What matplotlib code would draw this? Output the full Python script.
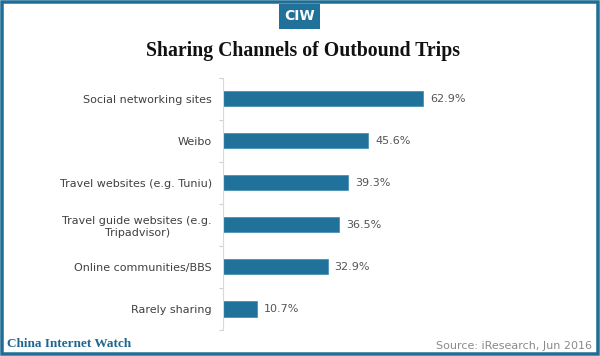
import matplotlib.pyplot as plt
from matplotlib.patches import Rectangle
import numpy as np

# 数据
categories = [
    "Social networking sites",
    "Weibo",
    "Travel websites (e.g. Tuniu)",
    "Travel guide websites (e.g.\nTripadvisor)",
    "Online communities/BBS",
    "Rarely sharing",
]
values = [62.9, 45.6, 39.3, 36.5, 32.9, 10.7]
value_labels = ["62.9%", "45.6%", "39.3%", "36.5%", "32.9%", "10.7%"]

title = "Sharing Channels of Outbound Trips"
brand = "China Internet Watch"
source = "Source: iResearch, Jun 2016"

BLUE = "#21729a"
FRAME = "#1f6e96"
W, H = 600, 356

fig = plt.figure(figsize=(W / 100, H / 100), dpi=100)
fig.patch.set_facecolor("white")

# 坐标轴区域 (像素换算)
ax_left, ax_right = 223, 583
ax_top, ax_bottom = 77.7, 330
ax = fig.add_axes([ax_left / W, 1 - ax_bottom / H,
                   (ax_right - ax_left) / W, (ax_bottom - ax_top) / H])

y = np.arange(len(categories))
ax.barh(y, values, height=0.36, color=BLUE, edgecolor="#3b8ab3", linewidth=0.5)
ax.set_xlim(0, (ax_right - ax_left) / 3.18)
ax.set_ylim(len(categories) - 0.5, -0.5)

for yi, v, lab in zip(y, values, value_labels):
    ax.text(v + 2.2, yi, lab, va="center", ha="left", fontsize=8, color="#555555")

ax.set_yticks(y)
ax.set_yticklabels(categories, fontsize=8, color="#404040", multialignment="center",
                   linespacing=1.3)
ax.tick_params(axis="y", which="major", length=0, pad=8)
ax.set_yticks(np.arange(-0.5, len(categories), 1.0), minor=True)
ax.tick_params(axis="y", which="minor", length=3, color="#d0d0d0", width=0.8)
ax.set_xticks([])
for s in ["top", "right", "bottom"]:
    ax.spines[s].set_visible(False)
ax.spines["left"].set_color("#d9d9d9")
ax.spines["left"].set_linewidth(0.8)

# 标题
fig.text(0.505, 1 - 51 / H, title, ha="center", va="center", fontsize=14.2,
         fontweight="bold", family="Liberation Serif", color="#111111")

# CIW 标志
fig.patches.append(Rectangle((279 / W, 1 - 29 / H), 41 / W, 25 / H,
                             transform=fig.transFigure, facecolor=BLUE,
                             edgecolor="none"))
fig.text(299.5 / W, 1 - 16.5 / H, "CIW", ha="center", va="center", fontsize=10,
         fontweight="bold", color="white", family="DejaVu Sans")

# 页脚
fig.text(7 / W, 1 - 344 / H, brand, ha="left", va="center", fontsize=9.5,
         fontweight="bold", family="Liberation Serif", color="#1f6690")
fig.text(592 / W, 1 - 346 / H, source, ha="right", va="center", fontsize=8,
         color="#8a8a8a")

# 外框
lw_px = 3.5
fig.patches.append(Rectangle((lw_px / 2 / W, lw_px / 2 / H),
                             1 - lw_px / W, 1 - lw_px / H,
                             transform=fig.transFigure, facecolor="none",
                             edgecolor=FRAME, linewidth=lw_px * 0.72))

fig.savefig("out.png", dpi=100)
